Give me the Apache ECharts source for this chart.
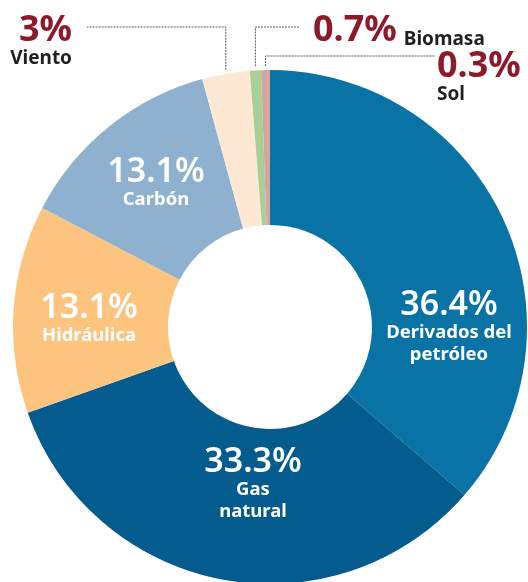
<!DOCTYPE html>
<html>
<head>
<meta charset="utf-8">
<script src="https://cdn.jsdelivr.net/npm/echarts@6/dist/echarts.min.js"></script>
<style>
  html, body { margin: 0; padding: 0; background: #fff; }
  #chart { width: 528px; height: 582px; }
</style>
</head>
<body>
<div id="chart"></div>
<script>
const categories = ['Derivados del petróleo', 'Gas natural', 'Hidráulica', 'Carbón', 'Viento', 'Biomasa', 'Sol']
const shares = [36.4, 33.3, 13.1, 13.1, 3, 0.7, 0.3]
const nameLines = [['Derivados del', 'petróleo'], ['Gas', 'natural'], ['Hidráulica'], ['Carbón'], ['Viento'], ['Biomasa'], ['Sol']]
const sliceColors = ['#0873a4', '#045b8e', '#fcc47e', '#8fb1d0', '#fde9d3', '#a9d094', '#d3a59d']
const outside = [false, false, false, false, true, true, true]

// label spots: big slices get a centred block, the small ones sit outside with a dotted elbow line
const labelPlace = [
  { x: 449, y: 288, align: 'center' },
  { x: 253, y: 445, align: 'center' },
  { x: 89, y: 291, align: 'center' },
  { x: 156, y: 155, align: 'center' },
  { x: 72, y: 13, align: 'right', lineY: 27, lineEnd: 87 },
  { x: 313, y: 13, align: 'left', lineY: 27, lineEnd: 299 },
  { x: 437, y: 49, align: 'left', lineY: 56, lineEnd: 435 }
]

const FONT = '"Noto Sans", sans-serif'
const RED = '#8c1a2a'
const DARK = '#231f20'

const chart = echarts.init(document.getElementById('chart'), null, { renderer: 'canvas' })

const option = {
  animation: false,
  series: [{
    type: 'pie',
    center: [270, 327],
    radius: [102, 257],
    startAngle: 90,
    clockwise: true,
    minAngle: 2,
    avoidLabelOverlap: false,
    emphasis: { disabled: true },
    itemStyle: { borderWidth: 0 },
    label: {
      fontFamily: FONT,
      formatter: p => {
        const i = p.dataIndex
        const pct = shares[i] + '%'
        if (!outside[i]) {
          return ['{pct|' + pct + '}'].concat(nameLines[i].map(t => '{name|' + t + '}')).join('\n')
        }
        if (i === 5) return '{opct|' + pct + '}{bname|' + nameLines[i][0] + '}'
        return '{opct|' + pct + '}\n{oname|' + nameLines[i][0] + '}'
      },
      rich: {
        pct: { fontFamily: FONT, fontSize: 34, fontWeight: 600, color: '#fff', lineHeight: 34 },
        name: { fontFamily: FONT, fontSize: 18.5, fontWeight: 'bold', color: '#fff', lineHeight: 22 },
        opct: { fontFamily: FONT, fontSize: 36, fontWeight: 'bold', color: RED, lineHeight: 36 },
        oname: { fontFamily: FONT, fontSize: 19, fontWeight: 'bold', color: DARK, lineHeight: 20 },
        bname: { fontFamily: FONT, fontSize: 19, fontWeight: 'bold', color: DARK, lineHeight: 26, verticalAlign: 'bottom', padding: [0, 0, 0, 7] }
      }
    },
    labelLine: {
      lineStyle: { color: '#5a5a5a', width: 1, type: [2, 1] }
    },
    labelLayout: params => {
      const i = params.dataIndex
      const place = labelPlace[i]
      const res = { x: place.x, y: place.y, align: place.align, verticalAlign: 'top' }
      if (outside[i] && params.labelLinePoints) {
        const sx = params.labelLinePoints[0][0]
        const sy = params.labelLinePoints[0][1]
        res.labelLinePoints = [[sx, sy - 4], [sx, place.lineY], [place.lineEnd, place.lineY]]
      }
      return res
    },
    data: categories.map((name, i) => ({
      name,
      value: shares[i],
      itemStyle: { color: sliceColors[i] },
      label: { position: outside[i] ? 'outside' : 'inside' },
      labelLine: { show: outside[i] }
    }))
  }]
}

chart.setOption(option)
</script>
</body>
</html>
